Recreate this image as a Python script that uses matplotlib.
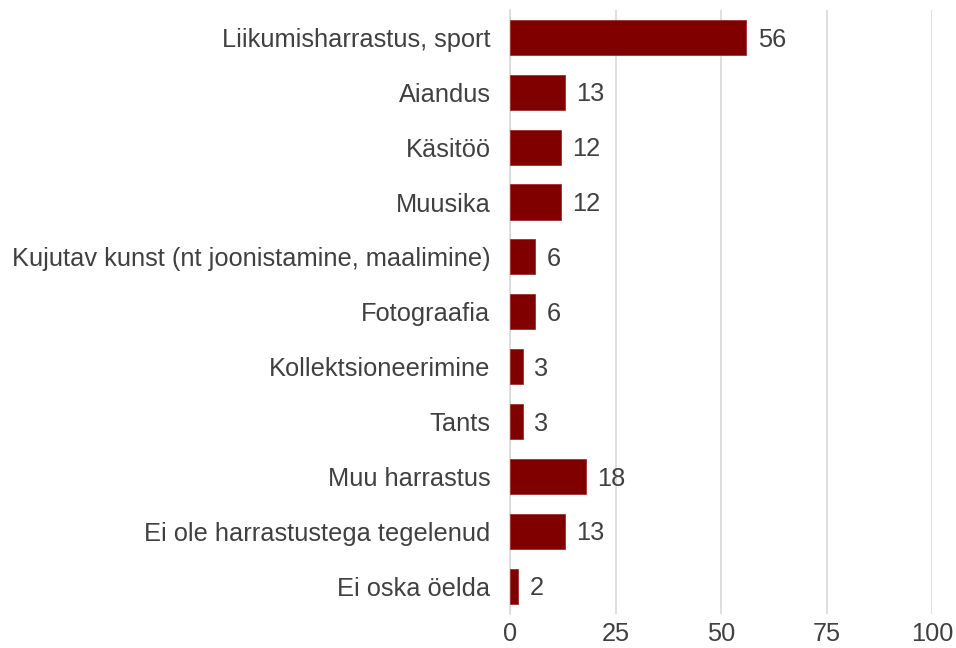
import matplotlib
matplotlib.use("Agg")
import matplotlib.pyplot as plt

plt.rcParams["font.family"] = ["Liberation Sans", "DejaVu Sans"]

categories = [
    "Liikumisharrastus, sport",
    "Aiandus",
    "Käsitöö",
    "Muusika",
    "Kujutav kunst (nt joonistamine, maalimine)",
    "Fotograafia",
    "Kollektsioneerimine",
    "Tants",
    "Muu harrastus",
    "Ei ole harrastustega tegelenud",
    "Ei oska öelda",
]
values = [56, 13, 12, 12, 6, 6, 3, 3, 18, 13, 2]
xticks = [0, 25, 50, 75, 100]

text_color = "#404040"
bar_color = "#800000"

fig = plt.figure(figsize=(9.56, 6.48), dpi=100)
ax = fig.add_axes([0.5335, 0.0532, 0.4414, 0.9314])

y = list(range(len(categories)))
ax.barh(y, values, height=0.64, color=bar_color, edgecolor="#a03030", linewidth=0.6, zorder=3)

# value labels just right of each bar
for yi, v in zip(y, values):
    ax.text(v + 2.7, yi + 0.04, str(v), va="center", ha="left", fontsize=18.3, color=text_color)

ax.set_xlim(0, 100)
ax.set_ylim(len(categories) - 0.5, -0.5)
ax.set_yticks(y)
ax.set_yticklabels(categories, fontsize=18.3, color=text_color)
ax.set_xticks(xticks)
ax.set_xticklabels([str(t) for t in xticks], fontsize=18.3, color=text_color)

ax.grid(axis="x", color="#d9d9d9", linewidth=1.2, zorder=0)
ax.tick_params(axis="both", length=0)
ax.tick_params(axis="y", pad=14)
ax.tick_params(axis="x", pad=6)
for s in ["top", "right", "bottom"]:
    ax.spines[s].set_visible(False)
ax.spines["left"].set_color("#d9d9d9")
ax.spines["left"].set_linewidth(1.2)

fig.savefig("out.png", dpi=100)
